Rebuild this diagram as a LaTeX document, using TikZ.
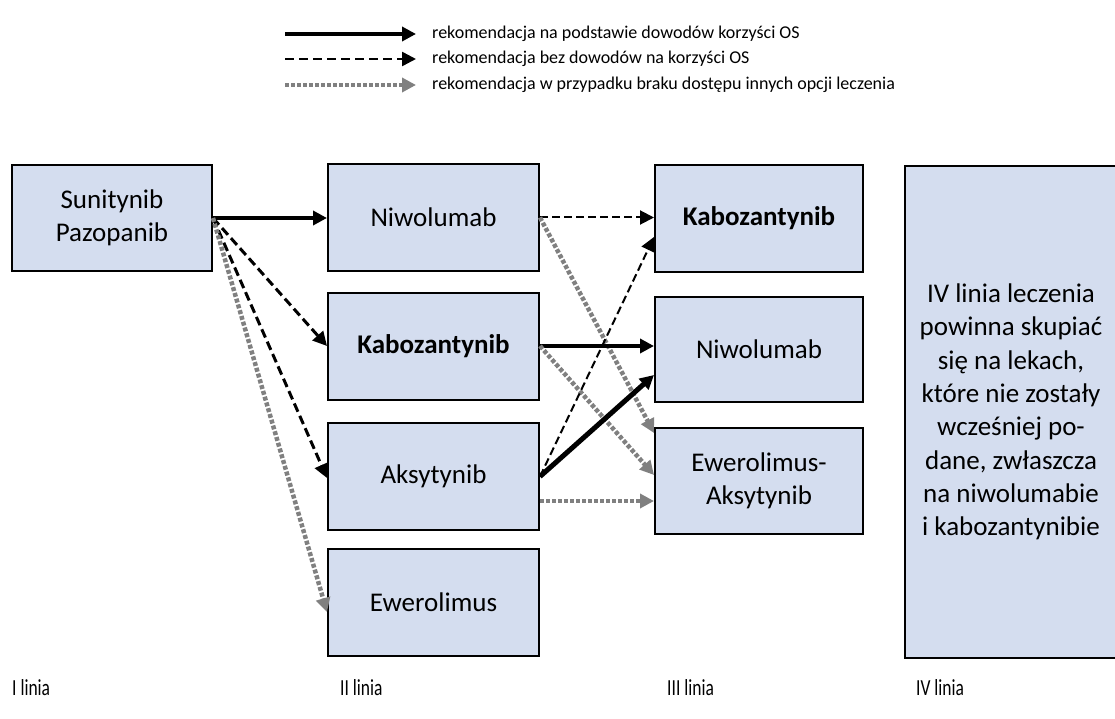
\documentclass[tikz,border=0pt]{standalone}
\usepackage{fontspec}
\setmainfont{Carlito}
\usetikzlibrary{arrows.meta,calc}
\definecolor{boxblue}{RGB}{212,221,239}
\definecolor{arrowgray}{RGB}{128,128,128}
\begin{document}
\begin{tikzpicture}[x=1pt,y=-1pt,
  drug/.style={draw=black, line width=2pt, fill=boxblue, align=center, inner sep=0pt,
    font=\fontsize{27}{33.3}\selectfont},
  colbox/.style={drug, minimum width=211pt, minimum height=107pt},
  tip/.style={-{Triangle[length=14pt,width=14pt]}},
  solidarr/.style={tip, draw=black, line width=4pt},
  heavyarr/.style={tip, draw=black, line width=5pt},
  dasharr/.style={tip, draw=black, line width=3pt, dash pattern=on 9pt off 4.5pt},
  thindash/.style={tip, draw=black, line width=2pt, dash pattern=on 8pt off 4pt},
  grayarr/.style={tip, draw=arrowgray, line width=4.5pt, dash pattern=on 4pt off 2pt},
  legtext/.style={anchor=west, inner sep=0pt, font=\fontsize{18}{21}\selectfont},
  linelabel/.style={anchor=west, inner sep=0pt, font=\fontsize{23}{27}\selectfont}
]
\useasboundingbox (0,0) rectangle (1115,719);

% legend
\coordinate (l1s) at (285,34);  \coordinate (l1e) at (416,34);
\coordinate (l2s) at (285,59);  \coordinate (l2e) at (416,59);
\coordinate (l3s) at (285,85);  \coordinate (l3e) at (416,85);
\draw[solidarr] (l1s) -- (l1e);
\draw[dasharr, line width=2.5pt, dash pattern=on 9pt off 5pt] (l2s) -- (l2e);
\draw[grayarr] (l3s) -- (l3e);
\node[legtext] (t1) at (432,34) {rekomendacja na podstawie dowodów korzyści OS};
\node[legtext] (t2) at (432,59) {rekomendacja bez dowodów na korzyści OS};
\node[legtext] (t3) at (432,85) {rekomendacja w przypadku braku dostępu innych opcji leczenia};

% column I
\node[drug, minimum width=200pt, minimum height=106pt] (sun) at (112,218) {Sunitynib\\Pazopanib};

% column II
\node[colbox] (niw2) at (433.5,217.5) {Niwolumab};
\node[colbox] (kab2) at (433.5,346) {\textbf{Kabozantynib}};
\node[colbox] (aks2) at (433.5,476.5) {Aksytynib};
\node[colbox] (ewe2) at (433.5,602.5) {Ewerolimus};

% column III
\node[colbox, minimum width=208pt] (kab3) at (759,218.5) {\textbf{Kabozantynib}};
\node[colbox, minimum width=208pt, minimum height=105pt] (niw3) at (759,349.5) {Niwolumab};
\node[colbox, minimum width=208pt, minimum height=106pt] (ewe3) at (759,481) {Ewerolimus-\\Aksytynib};

% column IV
\node[drug, minimum width=212pt, minimum height=491pt] (iv) at (1011,412)
  {IV linia leczenia\\powinna skupiać\\się na lekach,\\które nie zostały\\wcześniej po-\\dane, zwłaszcza\\na niwolumabie\\i kabozantynibie};

% line labels
\node[linelabel] (L1) at (12,688) {\scalebox{0.76}[1]{I linia}};
\node[linelabel] (L2) at (340,688) {\scalebox{0.76}[1]{II linia}};
\node[linelabel] (L3) at (667,688) {\scalebox{0.76}[1]{III linia}};
\node[linelabel] (L4) at (916,688) {\scalebox{0.76}[1]{IV linia}};

% connectors I -> II
\draw[solidarr] (sun.east) -- (sun.east -| niw2.west);
\draw[dasharr] (sun.east) -- (kab2.west);
\draw[dasharr] (sun.east) -- ([yshift=-1.5pt]aks2.west);
\draw[grayarr] (sun.east) -- ([yshift=-9.5pt]ewe2.west);

% connectors II -> III
\draw[thindash] (niw2.east) -- (niw2.east -| kab3.west);
\draw[grayarr] (niw2.east) -- ([yshift=48pt]ewe3.west);
\draw[solidarr] (kab2.east) -- (kab2.east -| niw3.west);
\draw[grayarr] (kab2.east) -- ([yshift=6pt]ewe3.west);
\draw[thindash] (aks2.east) -- ([yshift=-18.5pt]kab3.west);
\draw[heavyarr] (aks2.east) -- ([yshift=-25.5pt]niw3.west);
\draw[grayarr] ([yshift=-24.5pt]aks2.east) -- ([yshift=-24.5pt]aks2.east -| ewe3.west);
\end{tikzpicture}
\end{document}
